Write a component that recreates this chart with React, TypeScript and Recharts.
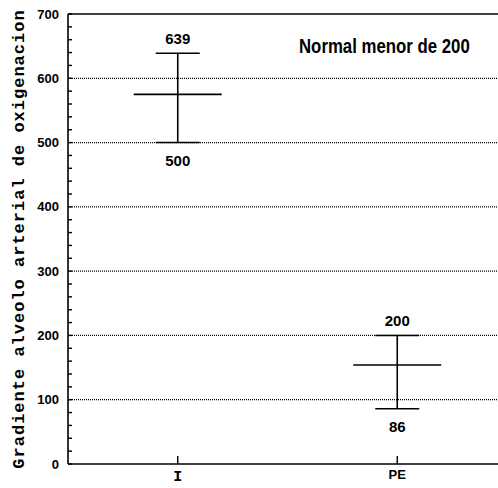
import React from 'react';
import { ComposedChart, Scatter, ErrorBar, XAxis, YAxis, ReferenceLine, LabelList } from 'recharts';

const categories = ['I', 'PE'];
const means = [575, 154];
const highs = [639, 200];
const lows = [500, 86];
const gridValues = [100, 200, 300, 400, 500, 600];
const yTicks = Array.from({ length: 36 }, (_, i) => i * 20);
const yLabel = 'Gradiente alveolo arterial de oxigenacion';
const note = 'Normal menor de 200';

const data = categories.map((name, i) => ({
  x: i + 1,
  name,
  mean: means[i],
  high: highs[i],
  low: lows[i],
  err: [means[i] - lows[i], highs[i] - means[i]],
}));

const sans = '"Liberation Sans", Arial, sans-serif';
const mono = '"Liberation Mono", "Courier New", monospace';

const MeanLine = (p: any) => (
  <line x1={p.cx - 44} x2={p.cx + 44} y1={p.cy} y2={p.cy} stroke="#000" strokeWidth={1.6} />
);
const Empty = () => <g />;

const XTick = (p: any) => {
  const label = categories[p.payload.value - 1];
  const isI = label === 'I';
  return (
    <text x={p.x} y={p.y} dy="0.71em" textAnchor="middle" fill="#000"
      fontFamily={isI ? mono : sans} fontWeight={700} fontSize={isI ? 15 : 13}>
      {label}
    </text>
  );
};

// small inward tick every 20, number every 100
const YTick = (p: any) => {
  const v = p.payload.value;
  const ax = p.x + 9;
  return (
    <g>
      <line x1={ax} x2={ax + 4} y1={p.y} y2={p.y} stroke="#000" strokeWidth={1.4} />
      {v % 100 === 0 && (
        <text x={p.x} y={p.y} dy="0.355em" textAnchor="end" fill="#000"
          fontFamily={sans} fontWeight={700} fontSize={13}>
          {v}
        </text>
      )}
    </g>
  );
};

const YTitle = (p: any) => {
  const vb = p.viewBox;
  const x = vb.x + 24;
  const y = vb.y + vb.height / 2;
  return (
    <text x={x} y={y} transform={`rotate(-90, ${x}, ${y})`} textAnchor="middle"
      fontFamily={mono} fontWeight={700} fontSize={17} letterSpacing={1} fill="#000">
      {yLabel}
    </text>
  );
};

export default function App() {
  return (
    <div style={{ position: 'absolute', left: 0, top: 0, width: 498, height: 488, overflow: 'hidden', background: '#fff' }}>
      <ComposedChart width={507} height={488} data={data} margin={{ top: 14, right: 0, bottom: 0, left: 0 }}>
        <XAxis type="number" dataKey="x" domain={[0.5, 2.5]} ticks={[1, 2]} height={24}
          axisLine={{ stroke: '#000', strokeWidth: 1.6 }} tickLine={{ stroke: '#000', strokeWidth: 1.4 }}
          tickSize={-8} tickMargin={14} tick={<XTick />} />
        <YAxis type="number" domain={[0, 700]} ticks={yTicks} interval={0} width={68}
          tickSize={0} tickMargin={9} tickLine={false}
          axisLine={{ stroke: '#000', strokeWidth: 1.6 }}
          tick={<YTick />} label={<YTitle />} />
        {gridValues.map(v => (
          <ReferenceLine key={v} y={v} stroke="#000" strokeDasharray="1 1" strokeWidth={1.2} />
        ))}
        <ReferenceLine y={700} stroke="#000" strokeWidth={1.6} />
        <Scatter data={data} dataKey="mean" shape={<MeanLine />} isAnimationActive={false}>
          <ErrorBar dataKey="err" direction="y" width={22} stroke="#000" strokeWidth={1.6} isAnimationActive={false} />
        </Scatter>
        <Scatter data={data} dataKey="high" shape={<Empty />} isAnimationActive={false}>
          <LabelList dataKey="high" position="top" offset={5} fill="#000" fontSize={15} fontWeight={700} fontFamily={sans} />
        </Scatter>
        <Scatter data={data} dataKey="low" shape={<Empty />} isAnimationActive={false}>
          <LabelList dataKey="low" position="bottom" offset={8} fill="#000" fontSize={15} fontWeight={700} fontFamily={sans} />
        </Scatter>
      </ComposedChart>
      <svg width={498} height={488} style={{ position: 'absolute', left: 0, top: 0, pointerEvents: 'none' }}>
        <text transform="translate(299, 53) scale(0.8, 1)" fontFamily={sans} fontWeight={700} fontSize={21} fill="#000">
          {note}
        </text>
      </svg>
    </div>
  );
}
